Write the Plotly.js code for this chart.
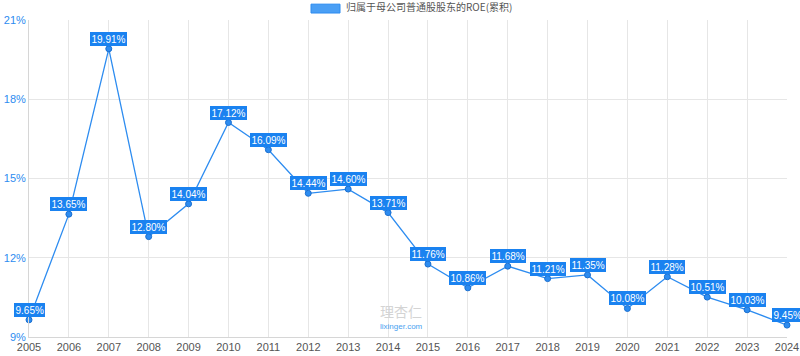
<!DOCTYPE html>
<html><head><meta charset="utf-8">
<script src="https://cdn.plot.ly/plotly-3.0.1.min.js"></script>
<style>html,body{margin:0;padding:0;background:#fff}#c{width:800px;height:356px}</style>
</head><body><div id="c"></div>
<script>
const years = [2005,2006,2007,2008,2009,2010,2011,2012,2013,2014,2015,2016,2017,2018,2019,2020,2021,2022,2023,2024];
const roe = [9.65,13.65,19.91,12.80,14.04,17.12,16.09,14.44,14.60,13.71,11.76,10.86,11.68,11.21,11.35,10.08,11.28,10.51,10.03,9.45];
const yTicks = [9,12,15,18,21];
const seriesName = '归属于母公司普通股股东的ROE(累积)';

const blue = '#2d8cf0';
const font = 'Arial, "Liberation Sans", "Noto Sans CJK SC", sans-serif';

const annotations = years.map((y,i)=>({
  x: y, y: roe[i], xref:'x', yref:'y',
  text: roe[i].toFixed(2)+'%', showarrow:false, yshift: 10,
  font:{family:font,size:10,color:'#fff'},
  bgcolor:'#1a82f0', bordercolor:'#1a82f0', borderwidth:1, borderpad:0.5
}));
annotations.push({xref:'paper',yref:'paper',x:(344-29)/758,y:1,yanchor:'bottom',yshift:4,
  text:seriesName,showarrow:false,font:{family:'"Noto Sans CJK SC", sans-serif',size:10,color:'#555'},xanchor:'left'});
annotations.push({xref:'paper',yref:'paper',x:(401-29)/758,y:(337-311)/317,xanchor:'center',yanchor:'middle',
  text:'理杏仁',showarrow:false,font:{family:'"Noto Sans CJK SC", sans-serif',size:14,color:'#d4d4d4'}});
annotations.push({xref:'paper',yref:'paper',x:(401-29)/758,y:(337-326)/317,xanchor:'center',yanchor:'middle',
  text:'lixinger.com',showarrow:false,font:{family:font,size:8,color:'#4a9ff0'}});

Plotly.newPlot('c',[{
  x: years, y: roe, type:'scatter', mode:'lines+markers', name: seriesName,
  line:{color:blue,width:1.3},
  marker:{size:6,color:blue,line:{color:'#1a6fd0',width:1}},
  cliponaxis:false, hoverinfo:'skip'
}],{
  width:800,height:356,
  margin:{l:29,r:13,t:20,b:19},
  paper_bgcolor:'#fff',plot_bgcolor:'#fff',
  showlegend:false,
  xaxis:{range:[2005,2024],tickvals:years,ticktext:years.map(String),
    showgrid:true,gridcolor:'#e6e6e6',gridwidth:1,zeroline:false,
    showline:true,linecolor:'#d6d6d6',ticks:'',
    tickfont:{family:font,size:11,color:'#555'}},
  yaxis:{range:[9,21],tickvals:yTicks,ticktext:yTicks.map(v=>v+'%'),
    showgrid:true,gridcolor:'#e6e6e6',zeroline:false,
    showline:true,linecolor:'#d6d6d6',ticks:'',
    tickfont:{family:font,size:11,color:'#2d8cf0'}},
  shapes:[{type:'rect',xref:'paper',yref:'paper',x0:(311-29)/758,x1:(340-29)/758,y0:1.022,y1:1.05,
    fillcolor:'#4a9ff5',line:{color:'#2d8cf0',width:1}}],
  annotations: annotations
},{staticPlot:true});
</script></body></html>
